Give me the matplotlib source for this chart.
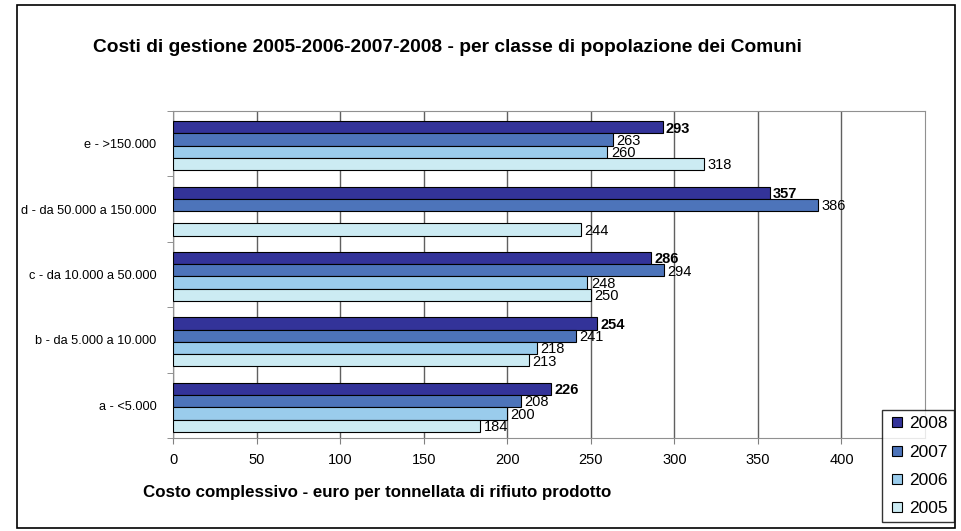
import matplotlib
matplotlib.use('Agg')
import matplotlib.pyplot as plt
import numpy as np
from matplotlib.lines import Line2D
from matplotlib.patches import Rectangle

plt.rcParams['font.family'] = ['Liberation Sans', 'DejaVu Sans']

# Data (bottom to top)
categories = ['a - <5.000', 'b - da 5.000 a 10.000', 'c - da 10.000 a 50.000',
              'd - da 50.000 a 150.000', 'e - >150.000']
years = ['2008', '2007', '2006', '2005']
costs_2008 = [226, 254, 286, 357, 293]
costs_2007 = [208, 241, 294, 386, 263]
costs_2006 = [200, 218, 248, np.nan, 260]
costs_2005 = [184, 213, 250, 244, 318]
series = [costs_2008, costs_2007, costs_2006, costs_2005]
colors = ['#333399', '#4D74BA', '#9ACCEC', '#CCEBF3']

fig = plt.figure(figsize=(9.62, 5.31), dpi=100)
ax = fig.add_axes([173 / 962, 1 - 438 / 531, (925 - 173) / 962, (438 - 111) / 531])

y = np.arange(len(categories))
bar_h = 0.1875
offsets = [1.5 * bar_h, 0.5 * bar_h, -0.5 * bar_h, -1.5 * bar_h]

for vals, col, off, yr in zip(series, colors, offsets, years):
    vals = np.array(vals, dtype=float)
    ax.barh(y + off - 0.03, vals, height=bar_h, color=col, edgecolor='black',
            linewidth=0.8, zorder=3)
    for yi, v in zip(y, vals):
        if np.isnan(v):
            continue
        ax.text(v + 2, yi + off - 0.05, f'{v:.0f}', va='center', ha='left',
                fontsize=10.5, fontweight='bold' if yr == '2008' else 'normal',
                zorder=4)

ax.set_xlim(0, 450)
ax.set_ylim(-0.5, len(categories) - 0.5)
ax.set_xticks(np.arange(0, 401, 50))
ax.set_yticks(y)
ax.set_yticklabels(categories, fontsize=9.2)
ax.set_yticks(np.arange(-0.5, len(categories), 1), minor=True)
ax.tick_params(axis='y', which='major', length=0, pad=12)
ax.tick_params(axis='y', which='minor', length=4, color='#808080', direction='out')
ax.tick_params(axis='x', length=4, color='#808080', labelsize=10.5, pad=7)
ax.grid(axis='x', color='#606060', linewidth=1, zorder=0)
for s in ax.spines.values():
    s.set_color('#909090')

fig.text(93 / 962, 1 - 47 / 531, 'Costi di gestione 2005-2006-2007-2008 - per classe di popolazione dei Comuni',
         fontsize=13.8, fontweight='bold', ha='left', va='center')
fig.text(143 / 962, 1 - 492 / 531, 'Costo complessivo - euro per tonnellata di rifiuto prodotto',
         fontsize=12.2, fontweight='bold', ha='left', va='center')

handles = [Line2D([], [], marker='s', linestyle='none', markersize=7,
                  markerfacecolor=c, markeredgecolor='black', markeredgewidth=0.8)
           for c in colors]
leg = fig.legend(handles, years, loc='lower right', bbox_to_anchor=(954 / 962, 1 - 522 / 531),
                 fontsize=12.5, frameon=True, fancybox=False, edgecolor='black',
                 handletextpad=0.2, borderpad=0.35, labelspacing=0.75, handlelength=1.0,
                 borderaxespad=0)
leg.get_frame().set_linewidth(1)

fig.patches.append(Rectangle((17 / 962, 1 - 528 / 531), (955 - 17) / 962, (528 - 5) / 531,
                             transform=fig.transFigure, fill=False, edgecolor='black',
                             linewidth=1.2))

fig.savefig('out.png', dpi=100)
